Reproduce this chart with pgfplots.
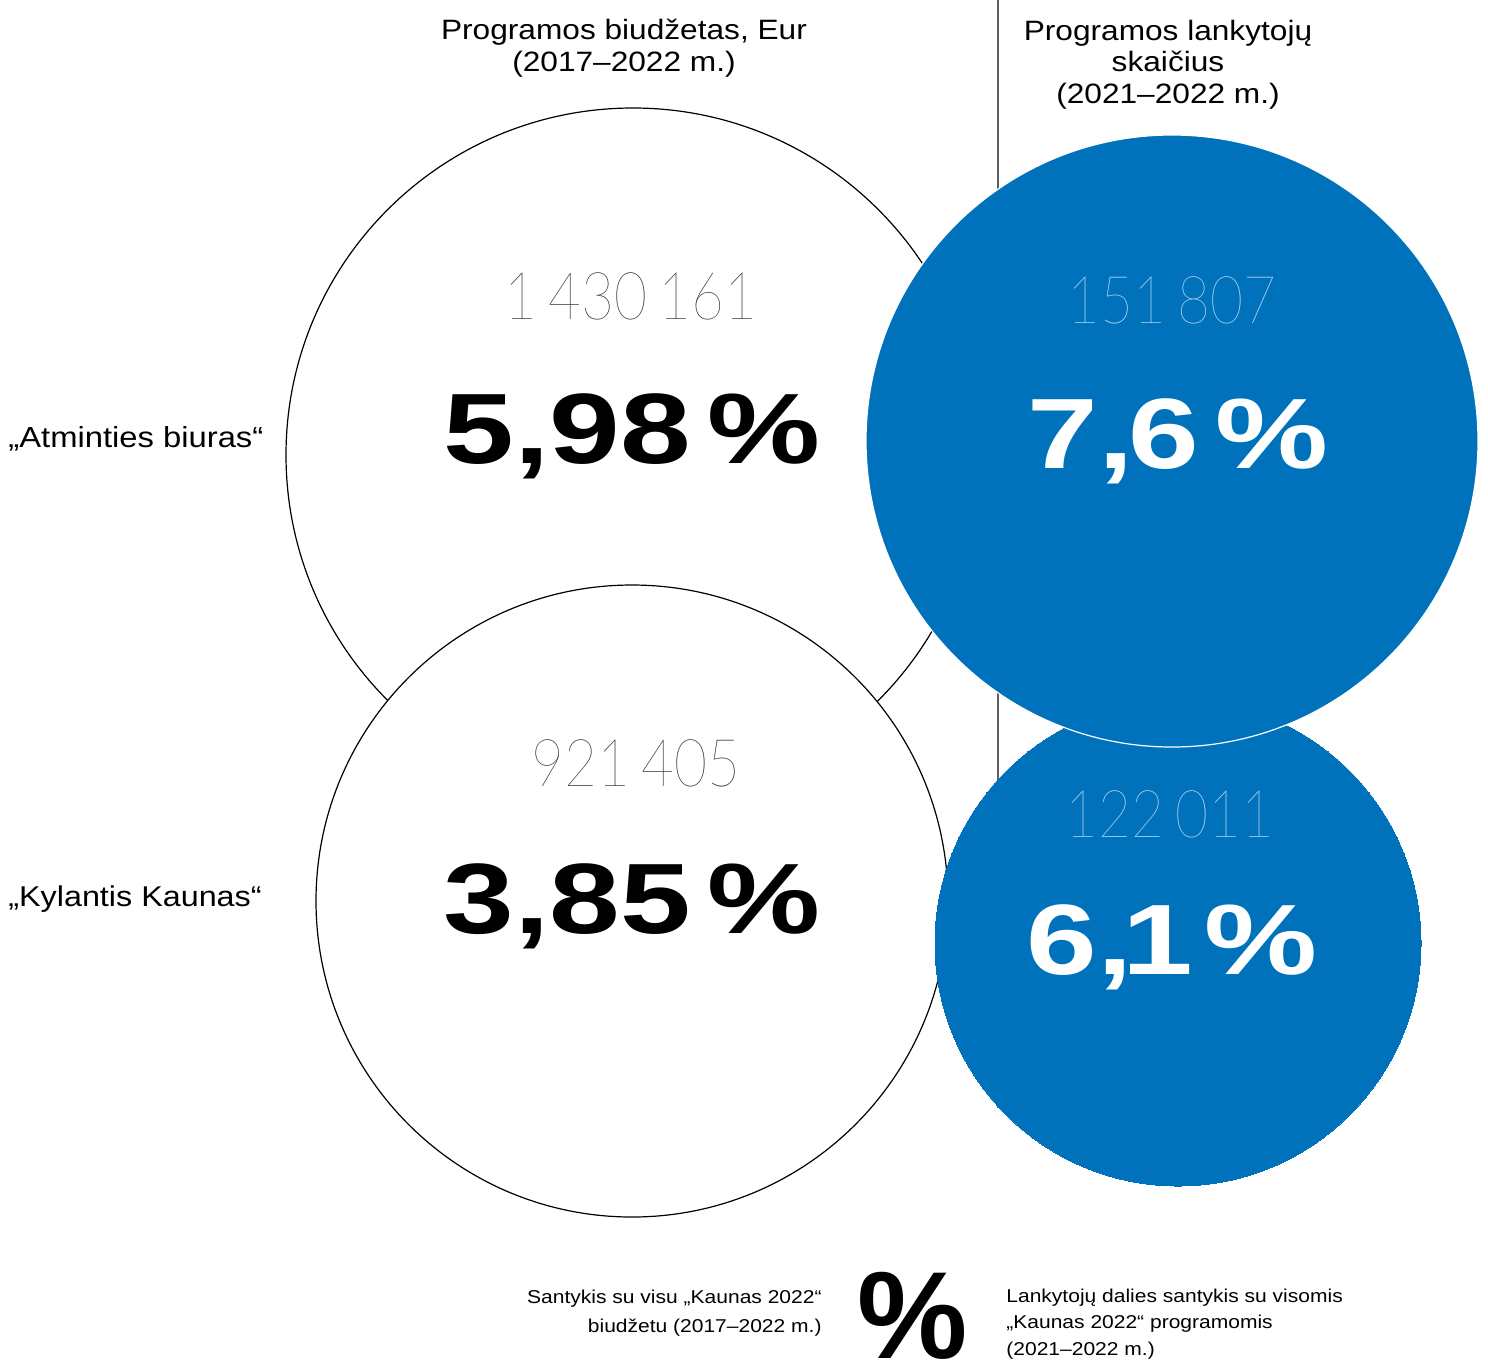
\documentclass[border=0pt]{standalone}
\usepackage{pgfplots}
\pgfplotsset{compat=1.18}
\usepackage{pgfplotstable}
\usepackage{fontspec}
\setmainfont{Liberation Sans}[FakeStretch=1.13]
\newfontfamily\boldf{Liberation Sans}[FakeStretch=1.27]
\newfontfamily\pctf{Liberation Sans}
\IfFontExistsTF{Lato Hairline}{\newfontfamily\thinf{Lato Hairline}[FakeStretch=0.86]}{%
  \IfFontExistsTF{Fira Sans Thin}{\newfontfamily\thinf{Fira Sans Thin}[FakeStretch=0.86]}{%
    \IfFontExistsTF{Lato Light}{\newfontfamily\thinf{Lato Light}[FakeStretch=0.86]}{%
      \newfontfamily\thinf{Liberation Serif}}}}
\definecolor{kblue}{RGB}{0,114,188}
\definecolor{kltblue}{RGB}{200,225,245}
\definecolor{kgray}{RGB}{40,40,40}
\definecolor{kline}{RGB}{95,95,95}

\pgfplotstableread{
x y r
633 455 347
632 901 316
}\whitecircles
\pgfplotstableread{
x y r
1178 943 243
}\bluelow
\pgfplotstableread{
x y r
1172 441 306
}\bluetop

\begin{document}
\begin{tikzpicture}
\useasboundingbox (0,0) rectangle (744pt,681pt);
\clip (0,0) rectangle (744pt,681pt);
\begin{axis}[
  at={(0,0)}, anchor=south west,
  scale only axis, width=744pt, height=681pt,
  xmin=0, xmax=1488, ymin=0, ymax=1362, y dir=reverse,
  hide axis, clip=false,
]
% vertical divider
\addplot[kline, line width=0.6pt] coordinates {(998,0) (998,1108)};
% budget circles
\addplot[scatter, only marks, mark=*,
  scatter/use mapped color={draw=black, fill=white},
  mark options={line width=0.6pt},
  visualization depends on={\thisrow{r} \as \rad},
  scatter/@pre marker code/.append style={/tikz/mark size=0.5*\rad}]
  table[x=x, y=y] {\whitecircles};
% visitors circles
\addplot[scatter, only marks, mark=*,
  scatter/use mapped color={draw=kblue, fill=kblue},
  mark options={line width=0pt},
  visualization depends on={\thisrow{r} \as \rad},
  scatter/@pre marker code/.append style={/tikz/mark size=0.5*\rad}]
  table[x=x, y=y] {\bluelow};
\addplot[scatter, only marks, mark=*,
  scatter/use mapped color={draw=white, fill=kblue},
  mark options={line width=0.6pt},
  visualization depends on={\thisrow{r} \as \rad},
  scatter/@pre marker code/.append style={/tikz/mark size=0.5*\rad}]
  table[x=x, y=y] {\bluetop};

% anchor points for the texts
\coordinate (h1a) at (axis cs:624,40);
\coordinate (h1b) at (axis cs:624,72);
\coordinate (h2a) at (axis cs:1168,41);
\coordinate (h2b) at (axis cs:1168,72);
\coordinate (h2c) at (axis cs:1168,104);
\coordinate (la) at (axis cs:8,448);
\coordinate (lb) at (axis cs:8,906);
\coordinate (v1) at (axis cs:631,320);
\coordinate (v2) at (axis cs:636,786);
\coordinate (v3) at (axis cs:1172,324);
\coordinate (v4) at (axis cs:1170,837);
\coordinate (p1) at (axis cs:632,464);
\coordinate (p2) at (axis cs:632,933);
\coordinate (p3) at (axis cs:1178,469);
\coordinate (p4) at (axis cs:1172,974);
\coordinate (k1) at (axis cs:822,1303);
\coordinate (k2) at (axis cs:822,1332);
\coordinate (kp) at (axis cs:913,1358);
\coordinate (k3) at (axis cs:1006,1302);
\coordinate (k4) at (axis cs:1006,1328);
\coordinate (k5) at (axis cs:1006,1355);
\end{axis}

% headings
\node[anchor=base, font=\fontsize{14}{16}\selectfont] at (h1a) {Programos biudžetas, Eur};
\node[anchor=base, font=\fontsize{14}{16}\selectfont] at (h1b) {(2017–2022 m.)};
\node[anchor=base, font=\fontsize{14}{16}\selectfont] at (h2a) {Programos lankytojų};
\node[anchor=base, font=\fontsize{14}{16}\selectfont] at (h2b) {skaičius};
\node[anchor=base, font=\fontsize{14}{16}\selectfont] at (h2c) {(2021–2022 m.)};
% row labels
\node[anchor=base west, inner sep=0pt, font=\fontsize{14.5}{16}\selectfont] at (la) {„Atminties biuras“};
\node[anchor=base west, inner sep=0pt, font=\fontsize{14.3}{16}\selectfont] at (lb) {„Kylantis Kaunas“};
% values
\node[anchor=base, text=kgray, font=\thinf\fontsize{33}{36}\selectfont] at (v1) {1\,430\,161};
\node[anchor=base, text=kgray, font=\thinf\fontsize{33}{36}\selectfont] at (v2) {921\,405};
\node[anchor=base, text=kltblue, font=\thinf\fontsize{33}{36}\selectfont] at (v3) {151\,807};
\node[anchor=base, text=kltblue, font=\thinf\fontsize{33}{36}\selectfont] at (v4) {122\,011};
% percentages
\node[anchor=base, text=black, font=\boldf\bfseries\fontsize{50}{52}\selectfont] at (p1) {5,98\,\%};
\node[anchor=base, text=black, font=\boldf\bfseries\fontsize{50}{52}\selectfont] at (p2) {3,85\,\%};
\node[anchor=base, text=white, font=\boldf\bfseries\fontsize{50}{52}\selectfont] at (p3) {7,\kern-0.05em6\,\%};
\node[anchor=base, text=white, font=\boldf\bfseries\fontsize{50}{52}\selectfont] at (p4) {6,\kern-0.1em1\kern-0.06em\,\%};
% key
\node[anchor=base east, inner sep=0pt, font=\fontsize{9.3}{12}\selectfont] at (k1) {Santykis su visu „Kaunas 2022“};
\node[anchor=base east, inner sep=0pt, font=\fontsize{9.3}{12}\selectfont] at (k2) {biudžetu (2017–2022 m.)};
\node[anchor=base, inner sep=0pt, font=\pctf\bfseries\fontsize{62}{64}\selectfont] at (kp) {\%};
\node[anchor=base west, inner sep=0pt, font=\fontsize{9.3}{12}\selectfont] at (k3) {Lankytojų dalies santykis su visomis};
\node[anchor=base west, inner sep=0pt, font=\fontsize{9.3}{12}\selectfont] at (k4) {„Kaunas 2022“ programomis};
\node[anchor=base west, inner sep=0pt, font=\fontsize{9.3}{12}\selectfont] at (k5) {(2021–2022 m.)};
\end{tikzpicture}
\end{document}
